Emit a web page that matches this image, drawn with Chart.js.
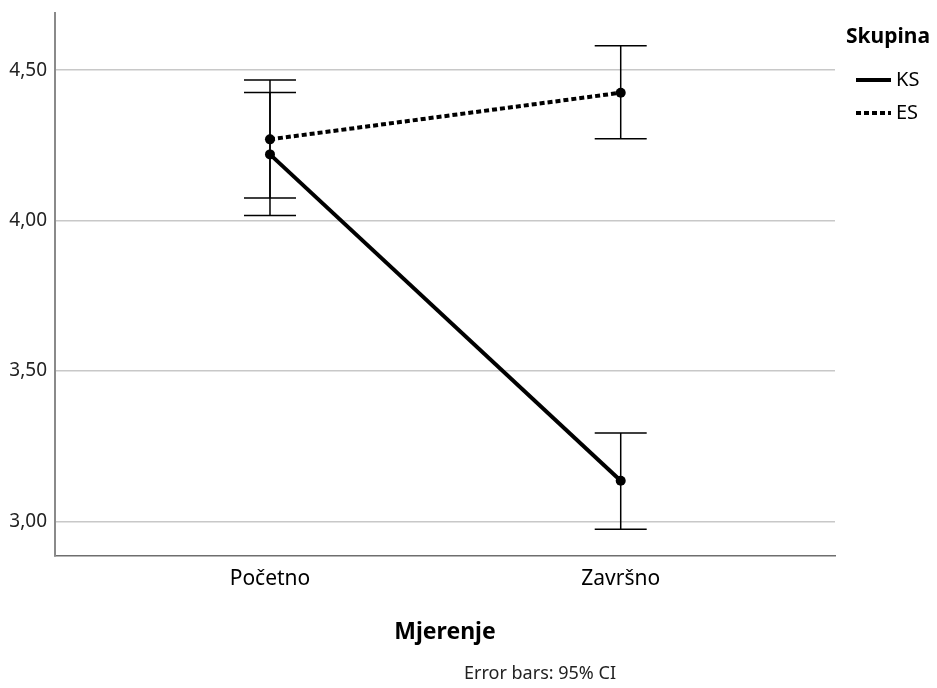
<!DOCTYPE html>
<html>
<head>
<meta charset="utf-8">
<script src="https://cdn.jsdelivr.net/npm/chart.js@4/dist/chart.umd.min.js"></script>
<style>
  html, body { margin: 0; padding: 0; background: #ffffff; }
  #wrap { width: 937px; height: 688px; position: relative; }
</style>
</head>
<body>
<div id="wrap"><canvas id="c" width="937" height="688"></canvas></div>
<script>
// ---- Data ----
const categories = ['Početno', 'Završno'];
const seriesNames = ['KS', 'ES'];
const ksMean = [4.220, 3.135];
const ksLow  = [4.017, 2.974];
const ksHigh = [4.426, 3.294];
const esMean = [4.270, 4.425];
const esLow  = [4.075, 4.272];
const esHigh = [4.467, 4.581];
const yTicks = [3.0, 3.5, 4.0, 4.5];
const xTitle = 'Mjerenje';
const legendTitle = 'Skupina';
const footnote = 'Error bars: 95% CI';

const FONT = "'Noto Sans', 'Open Sans', sans-serif";

function toPoints(vals) { return vals.map((v, i) => ({ x: i, y: v })); }

const errorBarPlugin = {
  id: 'errorBars',
  beforeDatasetsDraw(chart) {
    const { ctx, scales: { x, y } } = chart;
    const sets = [[ksLow, ksHigh], [esLow, esHigh]];
    ctx.save();
    ctx.strokeStyle = '#000';
    ctx.lineWidth = 1.5;
    sets.forEach(([lo, hi]) => {
      categories.forEach((c, i) => {
        const px = x.getPixelForValue(i);
        const y1 = y.getPixelForValue(lo[i]);
        const y2 = y.getPixelForValue(hi[i]);
        const cap = 26;
        ctx.beginPath();
        ctx.moveTo(px, y1); ctx.lineTo(px, y2);
        ctx.moveTo(px - cap, y1); ctx.lineTo(px + cap, y1);
        ctx.moveTo(px - cap, y2); ctx.lineTo(px + cap, y2);
        ctx.stroke();
      });
    });
    ctx.restore();
  }
};

const customLegendPlugin = {
  id: 'customLegend',
  afterDraw(chart) {
    const { ctx } = chart;
    ctx.save();
    ctx.fillStyle = '#000';
    ctx.textBaseline = 'middle';
    ctx.textAlign = 'left';
    ctx.font = "bold 21px " + FONT;
    ctx.fillText(legendTitle, 846, 37);
    ctx.font = "20px " + FONT;
    chart.data.datasets.forEach((ds, i) => {
      const yy = 80 + i * 33;
      ctx.strokeStyle = ds.borderColor;
      ctx.lineWidth = ds.borderWidth;
      ctx.setLineDash(ds.borderDash || []);
      ctx.beginPath();
      ctx.moveTo(856, yy); ctx.lineTo(891, yy);
      ctx.stroke();
      ctx.setLineDash([]);
      ctx.fillText(ds.label, 896, yy);
    });
    ctx.font = "18px " + FONT;
    ctx.textAlign = 'center';
    ctx.fillStyle = '#222';
    ctx.fillText(footnote, 540, 674);
    ctx.restore();
  }
};

new Chart(document.getElementById('c'), {
  type: 'line',
  data: {
    datasets: [
      {
        label: seriesNames[0],
        data: toPoints(ksMean),
        borderColor: '#000',
        backgroundColor: '#000',
        borderWidth: 4,
        pointRadius: 5,
        pointBackgroundColor: '#000',
        pointBorderWidth: 0,
        tension: 0
      },
      {
        label: seriesNames[1],
        data: toPoints(esMean),
        borderColor: '#000',
        backgroundColor: '#000',
        borderWidth: 4,
        borderDash: [5, 3],
        pointRadius: 5,
        pointBackgroundColor: '#000',
        pointBorderWidth: 0,
        tension: 0
      }
    ]
  },
  options: {
    responsive: false,
    animation: false,
    devicePixelRatio: 1,
    layout: { padding: { top: 13, right: 102, bottom: 0, left: 0 } },
    plugins: {
      legend: { display: false },
      tooltip: { enabled: false }
    },
    scales: {
      x: {
        type: 'linear',
        min: -0.613,
        max: 1.611,
        afterBuildTicks(axis) { axis.ticks = categories.map((c, i) => ({ value: i })); },
        afterFit(axis) { axis.height = 132; axis.paddingLeft = 0; axis.paddingRight = 0; },
        ticks: {
          callback: (v) => categories[v] !== undefined ? categories[v] : '',
          font: { family: FONT, size: 21 },
          color: '#000',
          padding: 10,
          maxRotation: 0,
          autoSkip: false
        },
        grid: { display: false, drawTicks: false },
        border: { display: true, color: '#6e6e6e', width: 1.5 },
        title: {
          display: true,
          text: xTitle,
          font: { family: FONT, size: 23, weight: 'bold' },
          color: '#000',
          padding: { top: 0, bottom: 42 }
        }
      },
      y: {
        type: 'linear',
        min: 2.885,
        max: 4.690,
        afterBuildTicks(axis) { axis.ticks = yTicks.map(v => ({ value: v })); },
        afterFit(axis) { axis.width = 55; axis.paddingTop = 0; axis.paddingBottom = 0; },
        ticks: {
          callback: (v) => v.toFixed(2).replace('.', ','),
          font: { family: FONT, size: 19 },
          color: '#222',
          padding: 8
        },
        grid: { color: '#c8c8c8', lineWidth: 1.5, drawTicks: false },
        border: { display: true, color: '#8a8a8a', width: 2 }
      }
    }
  },
  plugins: [errorBarPlugin, customLegendPlugin]
});
</script>
</body>
</html>
